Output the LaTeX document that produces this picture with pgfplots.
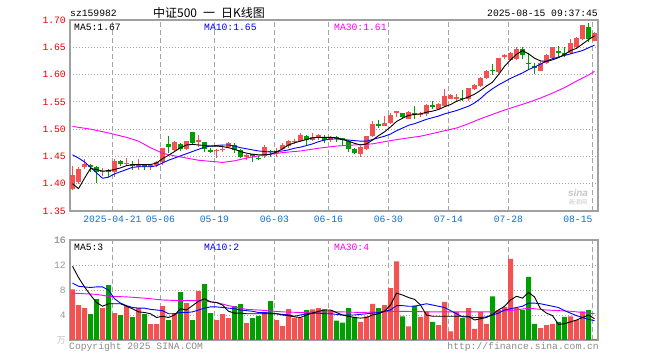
\documentclass[border=0pt]{standalone}
\usepackage{fontspec}
\setmainfont{Liberation Mono}
\newfontfamily\cjk{Noto Sans CJK SC}
\newfontfamily\sansf{Liberation Sans}
\usepackage{pgfplots}
\usepackage{pgfplotstable}
\pgfplotsset{compat=1.18}
\definecolor{cred}{RGB}{242,82,82}
\definecolor{cgreen}{RGB}{0,158,0}
\definecolor{pricered}{RGB}{230,0,0}
\definecolor{dateblue}{RGB}{20,110,200}
\definecolor{gridg}{RGB}{165,165,165}
\definecolor{bordg}{RGB}{160,160,160}
\definecolor{volg}{RGB}{150,150,150}
\definecolor{mablue}{RGB}{0,0,255}
\definecolor{mamag}{RGB}{255,0,255}
\newcommand\fs{\fontsize{9.7bp}{11bp}\selectfont}

\pgfplotstableread{
i o h l c v
0 1.390 1.433 1.388 1.416 8.1
1 1.404 1.430 1.400 1.427 5.6
2 1.431 1.445 1.427 1.436 5.1
5 1.422 1.429 1.415 1.424 5.1
7 1.421 1.445 1.412 1.442 4.3
9 1.437 1.448 1.433 1.438 5.44
11 1.430 1.446 1.426 1.435 5.1
13 1.432 1.436 1.426 1.433 2.56
14 1.434 1.442 1.430 1.439 2.56
15 1.439 1.466 1.435 1.465 5.44
17 1.462 1.479 1.460 1.477 4.3
19 1.464 1.479 1.462 1.478 5.92
21 1.476 1.490 1.468 1.481 7.84
24 1.461 1.463 1.447 1.462 3.2
25 1.463 1.471 1.459 1.464 4.16
26 1.468 1.476 1.466 1.474 3.52
29 1.449 1.454 1.443 1.452 2.72
32 1.450 1.471 1.447 1.468 4.48
34 1.456 1.465 1.449 1.459 3.2
35 1.464 1.474 1.462 1.471 2.24
36 1.470 1.481 1.466 1.479 4.96
37 1.4775 1.482 1.473 1.478 3.52
38 1.478 1.493 1.477 1.490 3.52
40 1.481 1.493 1.478 1.485 4.9
41 1.484 1.491 1.481 1.490 5.1
43 1.481 1.487 1.477 1.485 4.8
48 1.455 1.469 1.449 1.467 2.9
49 1.463 1.487 1.461 1.487 3.8
50 1.487 1.514 1.485 1.510 5.8
52 1.506 1.524 1.505 1.511 5.6
53 1.511 1.529 1.509 1.526 8.3
54 1.529 1.533 1.522 1.533 12.6
56 1.519 1.533 1.518 1.531 2.2
58 1.527 1.531 1.523 1.528 3.7
59 1.527 1.546 1.525 1.545 4.6
61 1.537 1.547 1.535 1.546 2.4
62 1.543 1.573 1.541 1.561 6.1
63 1.556 1.564 1.555 1.562 1.4
64 1.555 1.564 1.552 1.559 4.5
66 1.555 1.576 1.552 1.576 5.1
67 1.573 1.582 1.571 1.580 1.8
68 1.579 1.595 1.578 1.594 4.5
69 1.594 1.609 1.591 1.607 2.6
71 1.605 1.631 1.602 1.630 4.8
72 1.632 1.638 1.629 1.635 5.3
73 1.627 1.641 1.625 1.639 13.0
74 1.628 1.650 1.627 1.647 5.1
78 1.607 1.625 1.606 1.622 1.9
79 1.622 1.638 1.620 1.636 2.4
80 1.631 1.651 1.628 1.650 2.6
83 1.639 1.665 1.638 1.657 3.8
84 1.650 1.669 1.649 1.667 3.2
85 1.665 1.691 1.664 1.690 4.6
87 1.662 1.678 1.661 1.677 0.2
}\upT

\pgfplotstableread{
i o h l c v
3 1.435 1.437 1.421 1.430 4.16
4 1.431 1.432 1.402 1.421 6.56
6 1.424 1.427 1.412 1.423 8.8
8 1.441 1.443 1.433 1.437 4.0
10 1.436 1.442 1.425 1.433 3.68
12 1.435 1.436 1.426 1.430 4.16
16 1.473 1.487 1.457 1.468 3.2
18 1.472 1.474 1.460 1.464 7.68
20 1.494 1.495 1.471 1.474 3.2
22 1.477 1.477 1.458 1.464 8.96
23 1.461 1.466 1.456 1.460 4.3
27 1.471 1.474 1.456 1.462 5.44
28 1.462 1.463 1.448 1.449 5.76
30 1.454 1.454 1.440 1.450 3.52
31 1.448 1.450 1.443 1.445 3.84
33 1.460 1.461 1.449 1.459 6.24
39 1.487 1.490 1.469 1.480 4.8
42 1.484 1.490 1.475 1.481 4.9
44 1.485 1.487 1.477 1.482 3.1
45 1.483 1.484 1.469 1.482 2.8
46 1.479 1.480 1.459 1.464 5.1
47 1.464 1.466 1.454 1.456 3.7
51 1.509 1.517 1.502 1.507 5.1
55 1.529 1.530 1.519 1.523 3.8
57 1.529 1.543 1.519 1.528 5.5
60 1.543 1.552 1.537 1.542 2.9
65 1.557 1.571 1.552 1.556 3.5
70 1.608 1.619 1.600 1.607 7.0
75 1.647 1.650 1.628 1.636 4.8
76 1.622 1.639 1.610 1.619 10.1
77 1.615 1.622 1.601 1.614 2.6
81 1.642 1.653 1.633 1.641 2.9
82 1.639 1.650 1.633 1.638 3.7
86 1.687 1.694 1.659 1.665 4.8
}\dnT

\pgfplotsset{
  kbase/.style={
    scale only axis, width=528bp,
    xmin=-0.4167, xmax=87.5833,
    axis line style={draw=bordg, line width=1.1bp},
    major tick length=0pt,
    xtick={6.65,14.65,23.65,33.65,42.65,52.65,62.65,72.65,86.65},
    xmajorgrids, ymajorgrids,
    x grid style={draw=gridg, dash pattern=on 5bp off 3bp, line width=0.9bp},
    y grid style={draw=gridg, dash pattern=on 1bp off 2bp, line width=0.9bp},
    yticklabel style={inner sep=0pt, xshift=-4bp, font=\fs},
  },
  candle/.style 2 args={draw=none, mark=none, forget plot, error bars/.cd, y dir=both, y explicit, error mark=none,
    error bar style={solid, line width=#1, draw=#2}},
}

\begin{document}
\begin{tikzpicture}
\useasboundingbox (0,0) rectangle (660bp,360bp);

% ---------- price panel ----------
\begin{axis}[kbase,
  at={(70bp,149bp)}, anchor=south west, height=191bp,
  ymin=1.35, ymax=1.70,
  ytick={1.35,1.40,1.45,1.50,1.55,1.60,1.65,1.70},
  yticklabels={1.35,1.40,1.45,1.50,1.55,1.60,1.65,1.70},
  yticklabel style={text=pricered},
  xticklabels={2025-04-21,05-06,05-19,06-03,06-16,06-30,07-14,07-28,\makebox[0pt][r]{08-15}},
  xticklabel style={text=dateblue, inner sep=0pt, yshift=-4.5bp, font=\fs},
]
% wicks
\addplot[candle={1bp}{cred}]
  table[x=i, y expr={(\thisrow{h}+\thisrow{l})/2}, y error expr={(\thisrow{h}-\thisrow{l})/2}]{\upT};
\addplot[candle={1bp}{cgreen}]
  table[x=i, y expr={(\thisrow{h}+\thisrow{l})/2}, y error expr={(\thisrow{h}-\thisrow{l})/2}]{\dnT};
% bodies
\addplot[candle={5bp}{cred}]
  table[x=i, y expr={(\thisrow{o}+\thisrow{c})/2}, y error expr={max(abs(\thisrow{c}-\thisrow{o})/2,0.0009)}]{\upT};
\addplot[candle={5bp}{cgreen}]
  table[x=i, y expr={(\thisrow{o}+\thisrow{c})/2}, y error expr={max(abs(\thisrow{c}-\thisrow{o})/2,0.0009)}]{\dnT};
% MA30
\addplot[mamag, line width=0.9bp] coordinates {(0,1.505)(3,1.500)(6,1.493)(9,1.485)(11,1.478)(13,1.466)(15,1.456)(17,1.451)(19,1.447)(21,1.443)(23,1.441)(25,1.439)(27,1.442)(29,1.447)(31,1.451)(33,1.454)(35,1.457)(38,1.460)(41,1.465)(44,1.469)(47,1.471)(50,1.473)(53,1.479)(56,1.484)(58,1.487)(60,1.492)(62,1.497)(64,1.502)(66,1.510)(68,1.519)(70,1.527)(72,1.535)(74,1.542)(76,1.549)(78,1.557)(80,1.566)(82,1.576)(84,1.588)(86,1.599)(87,1.606)};
% MA10
\addplot[mablue, line width=0.9bp] coordinates {(0,1.453)(1,1.447)(2,1.440)(3,1.430)(4,1.420)(5,1.410)(6,1.412)(7,1.418)(8,1.422)(9,1.426)(10,1.430)(11,1.431)(12,1.431)(13,1.431)(14,1.433)(15,1.438)(16,1.443)(17,1.447)(18,1.451)(19,1.455)(20,1.459)(21,1.463)(22,1.467)(23,1.469)(24,1.470)(25,1.471)(26,1.471)(27,1.469)(28,1.466)(29,1.464)(30,1.462)(31,1.460)(32,1.459)(33,1.458)(34,1.459)(35,1.460)(36,1.462)(37,1.465)(38,1.467)(39,1.470)(40,1.473)(41,1.477)(42,1.480)(43,1.482)(44,1.482)(45,1.481)(46,1.480)(47,1.479)(48,1.478)(49,1.478)(50,1.481)(51,1.484)(52,1.487)(53,1.491)(54,1.497)(55,1.502)(56,1.507)(57,1.510)(58,1.514)(59,1.518)(60,1.521)(61,1.524)(62,1.528)(63,1.531)(64,1.534)(65,1.538)(66,1.542)(67,1.548)(68,1.556)(69,1.566)(70,1.574)(71,1.581)(72,1.587)(73,1.593)(74,1.598)(75,1.603)(76,1.609)(77,1.614)(78,1.619)(79,1.625)(80,1.629)(81,1.632)(82,1.635)(83,1.638)(84,1.641)(85,1.644)(86,1.649)(87,1.654)};
% MA5
\addplot[black, line width=0.9bp] coordinates {(0,1.400)(1,1.391)(2,1.410)(3,1.428)(4,1.426)(5,1.423)(6,1.424)(7,1.426)(8,1.429)(9,1.433)(10,1.435)(11,1.435)(12,1.435)(13,1.435)(14,1.438)(15,1.446)(16,1.452)(17,1.459)(18,1.466)(19,1.471)(20,1.472)(21,1.471)(22,1.470)(23,1.469)(24,1.469)(25,1.468)(26,1.466)(27,1.463)(28,1.459)(29,1.456)(30,1.454)(31,1.453)(32,1.453)(33,1.454)(34,1.458)(35,1.464)(36,1.471)(37,1.475)(38,1.478)(39,1.481)(40,1.484)(41,1.485)(42,1.485)(43,1.485)(44,1.484)(45,1.481)(46,1.478)(47,1.474)(48,1.471)(49,1.473)(50,1.480)(51,1.488)(52,1.495)(53,1.504)(54,1.514)(55,1.520)(56,1.525)(57,1.527)(58,1.528)(59,1.531)(60,1.533)(61,1.536)(62,1.541)(63,1.545)(64,1.551)(65,1.555)(66,1.559)(67,1.564)(68,1.571)(69,1.579)(70,1.586)(71,1.600)(72,1.615)(73,1.627)(74,1.637)(75,1.644)(76,1.638)(77,1.630)(78,1.625)(79,1.624)(80,1.627)(81,1.631)(82,1.637)(83,1.644)(84,1.648)(85,1.656)(86,1.664)(87,1.671)};
\end{axis}

% ---------- volume panel ----------
\begin{axis}[kbase,
  at={(70bp,20bp)}, anchor=south west, height=100bp,
  ymin=0, ymax=16,
  ytick={4,8,12,16}, yticklabels={4,8,12,16},
  yticklabel style={text=volg},
  xticklabels={},
]
\addplot[ybar, bar width=5bp, bar shift=0pt, fill=cred, draw=none] table[x=i, y=v]{\upT};
\addplot[ybar, bar width=5bp, bar shift=0pt, fill=cgreen, draw=none] table[x=i, y=v]{\dnT};
\addplot[mamag, line width=0.9bp] coordinates {(0,7.5)(4,7.3)(6,7.0)(9,6.9)(12,6.7)(15,6.4)(18,6.3)(21,6.3)(24,6.0)(26,5.5)(27,5.3)(29,4.9)(31,4.8)(35,4.5)(38,4.4)(41,4.5)(45,4.5)(48,4.4)(54,4.6)(60,4.5)(65,4.5)(70,4.5)(74,4.8)(76,5.1)(79,4.8)(83,4.6)(87,4.2)};
\addplot[mablue, line width=0.9bp] coordinates {(0,9.1)(1,8.6)(2,8.5)(3,8.4)(4,8.5)(5,8.5)(6,8.0)(7,6.6)(8,5.9)(9,5.5)(10,5.2)(11,5.1)(12,5.1)(13,4.9)(14,4.8)(15,4.7)(16,4.2)(17,4.2)(18,4.4)(19,4.4)(20,4.5)(21,4.8)(22,5.1)(23,5.3)(24,5.3)(25,5.2)(26,5.1)(27,5.0)(28,4.8)(29,4.7)(30,4.6)(31,4.4)(32,4.4)(33,4.3)(34,4.2)(35,4.1)(36,4.0)(37,3.8)(38,4.0)(39,4.2)(40,4.3)(41,4.3)(42,4.2)(43,4.2)(44,4.1)(45,4.0)(46,4.0)(47,4.0)(48,4.1)(49,4.2)(50,4.3)(51,4.4)(52,4.6)(53,4.8)(54,5.5)(55,5.5)(56,5.4)(57,5.4)(58,5.6)(59,5.8)(60,5.6)(61,5.4)(62,5.2)(63,4.7)(64,4.2)(65,3.7)(66,3.7)(67,3.6)(68,3.6)(69,3.7)(70,4.0)(71,4.3)(72,4.8)(73,5.0)(74,5.2)(75,5.4)(76,5.9)(77,5.9)(78,5.8)(79,5.6)(80,5.4)(81,5.2)(82,4.7)(83,4.3)(84,3.9)(85,3.6)(86,3.3)(87,3.1)};
\addplot[black, line width=0.9bp] coordinates {(0,11.8)(1,10.0)(2,8.5)(3,7.2)(4,6.0)(5,5.4)(6,5.8)(7,5.8)(8,5.8)(9,5.4)(10,5.0)(11,4.5)(12,4.4)(13,4.2)(14,3.6)(15,3.8)(16,3.6)(17,4.0)(18,5.0)(19,4.8)(20,5.5)(21,6.2)(22,6.6)(23,6.1)(24,6.0)(25,5.6)(26,4.6)(27,4.3)(28,4.3)(29,4.2)(30,4.2)(31,4.2)(32,4.2)(33,4.2)(34,4.2)(35,4.0)(36,3.9)(37,3.7)(38,3.6)(39,4.0)(40,4.3)(41,4.6)(42,4.8)(43,4.8)(44,4.4)(45,4.0)(46,3.8)(47,3.6)(48,3.5)(49,3.6)(50,4.0)(51,4.2)(52,4.6)(53,5.6)(54,7.5)(55,7.2)(56,6.8)(57,6.5)(58,5.6)(59,4.0)(60,3.8)(61,3.8)(62,3.8)(63,3.8)(64,3.8)(65,3.8)(66,3.8)(67,3.2)(68,3.4)(69,3.6)(70,4.1)(71,4.8)(72,5.4)(73,6.4)(74,7.0)(75,6.7)(76,7.6)(77,6.9)(78,5.0)(79,4.3)(80,3.9)(81,2.5)(82,2.6)(83,2.9)(84,3.2)(85,3.6)(86,4.0)(87,3.4)};
\end{axis}

% ---------- texts ----------
\node[anchor=east, inner sep=0pt, font=\fs, text=volg] at (66bp,120bp) {16};
\node[anchor=west, inner sep=0pt, font=\fs] at (70bp,347bp) {sz159982};
\node[inner sep=0pt, font=\cjk\fontsize{12bp}{13bp}\selectfont] at (209bp,347bp) {中证500\hspace{6bp}一\hspace{6bp}日K线图};
\node[anchor=east, inner sep=0pt, font=\fs] at (598bp,347bp) {2025-08-15 09:37:45};
\node[anchor=west, inner sep=0pt, font=\fs] at (74bp,333bp) {MA5:1.67};
\node[anchor=west, inner sep=0pt, font=\fs, text=mablue] at (204bp,333bp) {MA10:1.65};
\node[anchor=west, inner sep=0pt, font=\fs, text=mamag] at (334bp,333bp) {MA30:1.61};
\node[anchor=west, inner sep=0pt, font=\fs] at (74bp,113bp) {MA5:3};
\node[anchor=west, inner sep=0pt, font=\fs, text=mablue] at (204bp,113bp) {MA10:2};
\node[anchor=west, inner sep=0pt, font=\fs, text=mamag] at (334bp,113bp) {MA30:4};
\node[anchor=east, inner sep=0pt, font=\cjk\fontsize{9bp}{10bp}\selectfont, text=volg!60] at (66bp,20bp) {万};
\node[anchor=west, inner sep=0pt, font=\fs, text=volg!110] at (69bp,13bp) {Copyright 2025 SINA.COM};
\node[anchor=east, inner sep=0pt, font=\fs, text=volg!110] at (599bp,13bp) {http://finance.sina.com.cn};
\node[inner sep=0pt, font=\sansf\bfseries\itshape\fontsize{10bp}{11bp}\selectfont, text=gray!45] at (578bp,167bp) {sina};
\node[inner sep=0pt, font=\cjk\fontsize{6bp}{7bp}\selectfont, text=gray!45] at (578bp,158bp) {新浪网};
\end{tikzpicture}
\end{document}
